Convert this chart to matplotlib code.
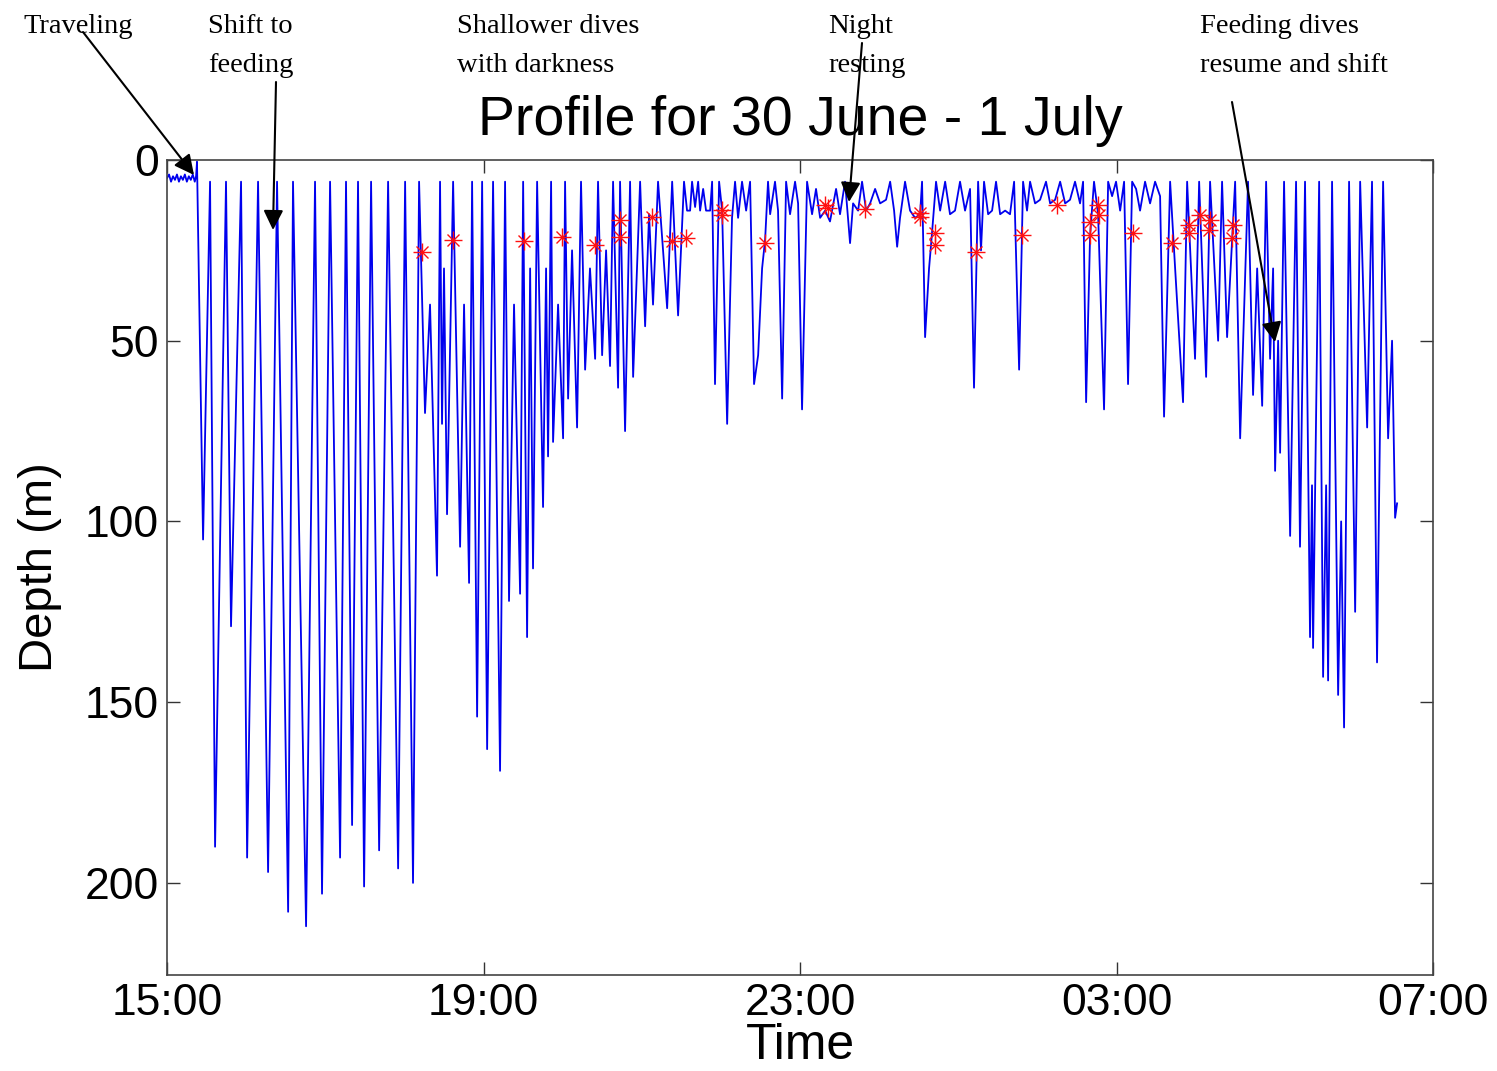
import numpy as np
import matplotlib.pyplot as plt

plt.rcParams['font.family'] = ['Liberation Sans', 'DejaVu Sans']

# dive profile: minutes after 15:00 and depth (m)
profile_t = [0.0, 1.5, 3.0, 4.5, 6.0, 7.5, 9.0, 10.5, 12.0, 13.5, 15.0, 16.5,
             18.0, 19.5, 21.0, 22.0, 22.7,
             27.3, 32.6, 36.4, 44.7, 48.5, 56.1, 60.7, 69.0, 76.6, 83.4, 91.8, 95.5,
             105.4, 112.2, 117.5, 123.6, 131.2, 135.7, 140.3, 144.8, 149.4, 154.7,
             160.8, 167.6, 175.2, 180.5, 186.5, 191.1, 195.6, 199.4, 204.7, 207.0,
             208.5, 210.0, 212.3, 216.9, 222.2, 225.2, 229.0, 231.3, 235.1, 238.9,
             242.7, 247.2, 252.5, 256.3, 259.3, 263.1, 267.7, 270.0, 273.0, 275.3,
             277.5, 280.6, 285.1, 287.4, 288.9, 291.2, 292.7, 296.5, 300.3, 301.8,
             304.1, 307.1, 310.9, 313.9, 317.0, 320.7, 324.6, 326.8, 329.9, 332.9,
             335.9, 338.2, 342.0, 343.5, 347.3, 351.1, 353.4, 358.7, 362.5, 365.5,
             368.5, 372.3, 376.1, 379.2, 383.0, 387.5, 392.0, 394.3,
             396.6, 398.1, 400.4, 402.7, 404.2, 406.5, 408.7, 411.8, 413.3, 415.5,
             418.6, 420.9, 424.7, 428.4, 430.7, 433.0, 436.0, 439.1, 442.1, 445.1,
             448.2, 451.2, 453.5, 455.7, 457.3, 461.0, 463.3, 466.4, 469.4, 472.4,
             476.2, 478.5, 481.5, 485.3, 489.1, 492.1, 495.2, 499.0, 502.7, 507.3,
             510.3, 514.1, 517.9, 520.2, 524.0, 527.0, 530.1, 533.1, 536.9, 540.7,
             545.2, 548.3, 551.3, 553.6, 555.8, 559.6, 563.4, 567.2, 571.0, 572.5,
             574.8, 577.8, 580.1, 583.1, 586.2, 590.0, 593.7, 597.5, 601.3, 605.1,
             608.9, 611.9, 615.0, 617.2, 619.5, 622.6, 625.6, 628.6, 631.7, 635.5,
             639.2, 642.3, 646.1, 649.1, 652.1, 654.4, 658.2, 662.0, 666.5, 669.6,
             673.4, 677.2, 681.0, 684.7, 688.5, 692.3, 694.6, 696.9, 699.9, 702.9,
             706.0, 710.5, 713.6, 716.6, 719.6, 722.7, 725.7, 728.7, 731.8, 734.8,
             737.8, 741.6, 745.4, 749.2, 753.0, 756.0, 760.6, 764.4, 770.4, 773.5,
             779.5, 782.6, 787.9, 790.9, 797.0, 800.0, 803.8, 809.9, 813.7, 819.7,
             823.5, 826.6, 830.4, 833.4, 836.4, 838.7, 840.2, 842.5, 844.0, 847.0,
             851.6, 856.1, 859.1, 862.9, 866.7, 868.2, 869.0, 873.6, 876.6, 878.9,
             880.4, 883.4, 888.0, 890.3, 892.5, 896.3, 900.9, 904.7, 910.0, 913.7,
             917.5, 922.1, 925.9, 928.9, 931.2, 932.7]
profile_d = [5, 4, 6, 4.5, 5.5, 4, 6, 4.5, 5.5, 4, 6, 4.5,
             5.5, 4, 6, 4.5, 0.5,
             105, 6, 190, 6, 129, 6, 193, 6, 197, 6, 208, 6,
             212, 6, 203, 6, 193, 6, 184, 6, 201, 6,
             191, 6, 196, 6, 200, 6, 70, 40, 115, 6,
             73, 30, 98, 6, 107, 40, 117, 6, 154, 6,
             163, 6, 169, 6, 122, 40, 120, 6, 132, 30,
             113, 6, 96, 30, 82, 6, 78, 40, 77, 6,
             66, 25, 74, 6, 58, 30, 55, 6, 54, 25,
             57, 6, 63, 6, 75, 6, 60, 6, 46, 15,
             40, 6, 25, 41, 6, 43, 6, 14,
             14, 6, 13, 6, 14, 8, 14, 14, 6, 62,
             6, 14, 73, 16, 6, 16, 6, 14, 6, 62,
             54, 30, 22, 6, 15, 6, 14, 66, 6, 15,
             6, 12, 69, 6, 15, 8, 16, 14, 17, 8,
             15, 6, 23, 12, 14, 6, 14, 12, 8, 12,
             11, 6, 14, 24, 16, 6, 14, 16, 15, 6,
             49, 30, 20, 6, 14, 6, 15, 14, 6, 14,
             8, 63, 6, 25, 6, 15, 14, 6, 15, 14,
             15, 6, 58, 6, 14, 6, 12, 11, 6, 12,
             11, 6, 12, 11, 6, 12, 6, 67, 21, 6,
             15, 69, 6, 10, 6, 14, 6, 62, 6, 8,
             14, 6, 12, 6, 10, 71, 6, 30, 67, 6,
             55, 6, 60, 6, 50, 6, 49, 6, 77, 6,
             65, 30, 68, 6, 55, 30, 86, 50, 81, 6,
             104, 6, 107, 6, 132, 90, 135, 6, 143, 90,
             144, 6, 148, 100, 157, 6, 125, 6, 74, 6,
             139, 6, 77, 50, 99, 95]

# red asterisks (minutes after 15:00, depth m)
star_t = [193.1, 216.9, 270.7, 299.3, 324.6, 343.5, 343.5, 367.5, 382.7, 393.3,
          420.6, 420.6, 453.5, 499.0, 501.3, 529.3, 571.0, 571.0, 582.4, 582.4,
          613.1, 648.1, 674.7, 699.9, 699.9, 706.0, 706.7, 732.5, 761.9, 775.0,
          775.0, 783.3, 790.1, 790.9, 808.4, 807.6]
star_d = [25.4, 22, 22.3, 21.3, 23.6, 16.7, 21.3, 15.8, 22.3, 21.5,
          13.9, 15.3, 22.9, 12.5, 13.4, 13.6, 14.7, 15.7, 20.3, 23.5,
          25.4, 20.8, 12.5, 17.1, 20.8, 12.5, 15.2, 20.3, 23, 18,
          20.3, 15.2, 19.4, 16.6, 17.9, 21.6]

time_ticks = [0, 240, 480, 720, 960]
time_labels = ['15:00', '19:00', '23:00', '03:00', '07:00']
depth_ticks = [0, 50, 100, 150, 200]

note_line1 = ['Traveling', 'Shift to', 'Shallower dives', 'Night', 'Feeding dives']
note_line2 = ['', 'feeding', 'with darkness', 'resting', 'resume and shift']
note_x = [23, 208, 457, 828, 1200]
arrows = [((83, 1039), (194, 896)), ((276, 989), (273, 841)),
          ((862, 1028), (849, 869)), ((1232, 969), (1275, 729))]

fig = plt.figure(figsize=(14.97, 10.71), dpi=100)
ax = fig.add_axes([0.1116, 0.0896, 0.8457, 0.7610])
ax.plot(profile_t, profile_d, color='#0000ee', lw=1.3)
ax.plot(star_t, star_d, '+', color='#ff1010', ms=13, mew=1.0)
ax.plot(star_t, star_d, 'x', color='#ff1010', ms=9, mew=1.0)

ax.set_xlim(0, 960)
ax.set_ylim(225.5, 0)
ax.set_xticks(time_ticks)
ax.set_xticklabels(time_labels)
ax.set_yticks(depth_ticks)
ax.tick_params(direction='in', length=9.5, width=1, top=True, right=True,
               labelsize=32, pad=6, color='#333333')
for s in ax.spines.values():
    s.set_color('#444444')
    s.set_linewidth(1.2)

ax.set_title('Profile for 30 June - 1 July', fontsize=40, pad=18)
ax.set_xlabel('Time', fontsize=36, labelpad=-1)
ax.set_ylabel('Depth (m)', fontsize=34, labelpad=16)

for x, l1, l2 in zip(note_x, note_line1, note_line2):
    fig.text(x / 1497, 1038 / 1071, l1, family='Liberation Serif', fontsize=20.5,
             va='baseline', ha='left')
    fig.text(x / 1497, 999 / 1071, l2, family='Liberation Serif', fontsize=20.5,
             va='baseline', ha='left')
for (x0, y0), (x1, y1) in arrows:
    ax.annotate('', xy=(x1, y1), xytext=(x0, y0), xycoords='figure pixels',
                textcoords='figure pixels', annotation_clip=False,
                arrowprops=dict(arrowstyle='-|>', color='k', lw=1.5,
                                mutation_scale=30, shrinkA=0, shrinkB=0))

fig.savefig('out.png', dpi=100)
